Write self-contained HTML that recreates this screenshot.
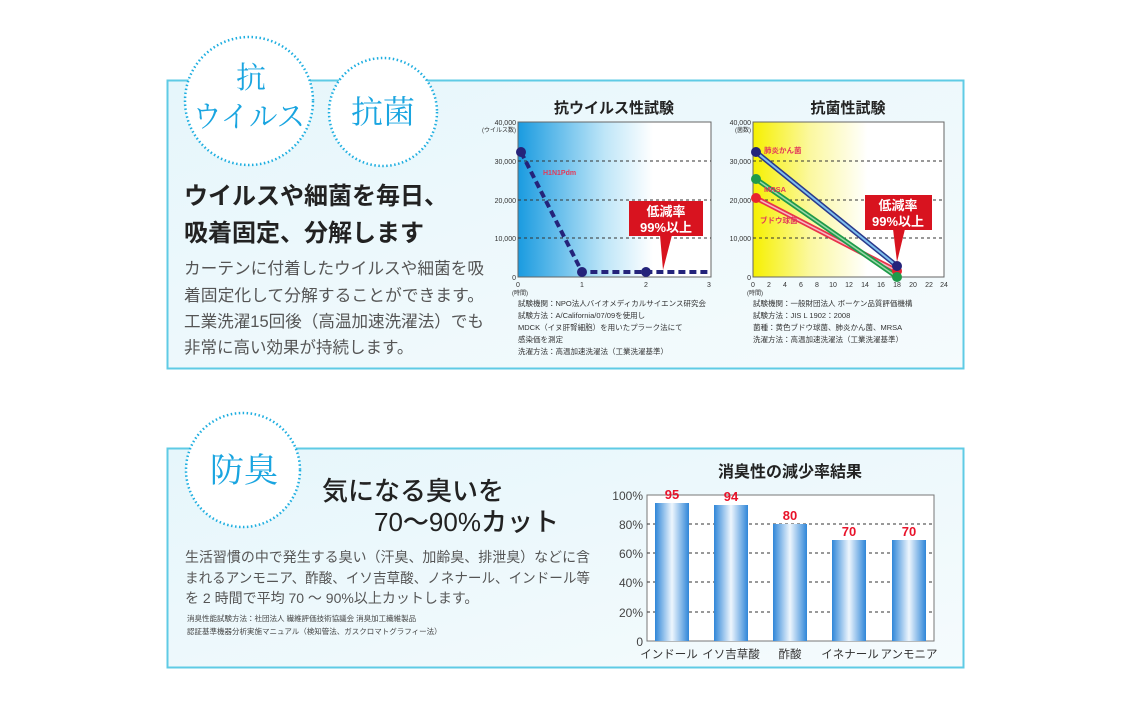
<!DOCTYPE html>
<html><head><meta charset="utf-8"><style>
html,body{margin:0;padding:0;background:#fff;}
svg{display:block;font-family:"Liberation Sans","Noto Sans CJK JP",sans-serif;}
</style></head><body>
<svg width="1131" height="707" viewBox="0 0 1131 707" xmlns="http://www.w3.org/2000/svg">
<defs>
<linearGradient id="bg1" x1="0" y1="0" x2="1" y2="0">
<stop offset="0" stop-color="#1a9be0"/><stop offset="0.45" stop-color="#bfe6f8"/><stop offset="0.7" stop-color="#ffffff"/></linearGradient>
<linearGradient id="bg2" x1="0" y1="0" x2="1" y2="0">
<stop offset="0" stop-color="#f6f000"/><stop offset="0.3" stop-color="#fbf8a0"/><stop offset="0.6" stop-color="#ffffff"/></linearGradient>
<linearGradient id="bar" x1="0" y1="0" x2="1" y2="0">
<stop offset="0" stop-color="#2f86d8"/><stop offset="0.5" stop-color="#eef6fd"/><stop offset="1" stop-color="#2f86d8"/></linearGradient>
<linearGradient id="boxbg" x1="0" y1="0" x2="1" y2="1">
<stop offset="0" stop-color="#e6f6fb"/><stop offset="1" stop-color="#f5fbfd"/></linearGradient>
</defs>
<rect width="1131" height="707" fill="#fff"/>

<!-- Box 1 -->
<rect x="167.5" y="80.5" width="796" height="288" fill="url(#boxbg)" stroke="#5fcbe5" stroke-width="2"/>
<!-- Box 2 -->
<rect x="167.5" y="448.5" width="796" height="219" fill="url(#boxbg)" stroke="#5fcbe5" stroke-width="2"/>

<!-- circles -->
<circle cx="249" cy="101" r="64" fill="#fff" stroke="#1eaee0" stroke-width="2.5" stroke-dasharray="1.5 2.5"/>
<circle cx="383" cy="112" r="54" fill="#fff" stroke="#1eaee0" stroke-width="2.5" stroke-dasharray="1.5 2.5"/>
<circle cx="243" cy="470" r="57" fill="#fff" stroke="#1eaee0" stroke-width="2.5" stroke-dasharray="1.5 2.5"/>
<g fill="#1aa5e0" font-family="'Noto Serif CJK SC','Noto Sans CJK JP',serif" text-anchor="middle">
<text x="251" y="88" font-size="30">抗</text>
<text x="249" y="127" font-size="30" textLength="112" lengthAdjust="spacingAndGlyphs">ウイルス</text>
<text x="383" y="123" font-size="32">抗菌</text>
<text x="244" y="482" font-size="34">防臭</text>
</g>

<!-- box1 text -->
<g fill="#222" font-weight="bold" font-size="24">
<text x="184" y="204">ウイルスや細菌を毎日、</text>
<text x="184" y="241">吸着固定、分解します</text>
</g>
<g fill="#555" font-size="16.5">
<text x="184" y="274" textLength="300" lengthAdjust="spacingAndGlyphs">カーテンに付着したウイルスや細菌を吸</text>
<text x="184" y="301" textLength="300" lengthAdjust="spacingAndGlyphs">着固定化して分解することができます。</text>
<text x="184" y="327" textLength="300" lengthAdjust="spacingAndGlyphs">工業洗濯15回後（高温加速洗濯法）でも</text>
<text x="184" y="353">非常に高い効果が持続します。</text>
</g>

<!-- Chart 1 -->
<text x="614" y="113" font-size="15" font-weight="bold" text-anchor="middle" fill="#222">抗ウイルス性試験</text>
<rect x="518" y="122" width="193" height="155" fill="url(#bg1)" stroke="#666" stroke-width="1"/>
<g stroke="#333" stroke-dasharray="3 3" stroke-width="1">
<line x1="518" y1="161" x2="711" y2="161"/><line x1="518" y1="200" x2="711" y2="200"/><line x1="518" y1="238" x2="711" y2="238"/></g>
<g font-size="7" fill="#333" text-anchor="end">
<text x="516" y="125">40,000</text><text x="516" y="132" font-size="6">(ウイルス数)</text>
<text x="516" y="164">30,000</text><text x="516" y="203">20,000</text><text x="516" y="241">10,000</text><text x="516" y="280">0</text></g>
<g font-size="7" fill="#333" text-anchor="middle">
<text x="518" y="287">0</text><text x="582" y="287">1</text><text x="646" y="287">2</text><text x="709" y="287">3</text>
<text x="520" y="295" font-size="6">(時間)</text></g>
<polyline points="521,152 582,272 646,272 711,272" fill="none" stroke="#24237a" stroke-width="4" stroke-dasharray="7 4"/>
<circle cx="521" cy="152" r="5" fill="#24237a"/><circle cx="582" cy="272" r="5" fill="#24237a"/><circle cx="646" cy="272" r="5" fill="#24237a"/>
<text x="543" y="175" font-size="7" font-weight="bold" fill="#e23a5a">H1N1Pdm</text>
<rect x="629" y="201" width="74" height="35" fill="#d8131f"/>
<polygon points="660,235 672,235 663,270" fill="#d8131f"/>
<g fill="#fff" font-size="13" font-weight="bold" text-anchor="middle">
<text x="666" y="216">低減率</text><text x="666" y="232">99%以上</text></g>
<g font-size="7.5" fill="#333">
<text x="518" y="306">試験機関：NPO法人バイオメディカルサイエンス研究会</text>
<text x="518" y="318">試験方法：A/California/07/09を使用し</text>
<text x="518" y="330">MDCK（イヌ肝腎細胞）を用いたプラーク法にて</text>
<text x="518" y="342">感染価を測定</text>
<text x="518" y="354">洗濯方法：高温加速洗濯法（工業洗濯基準）</text></g>

<!-- Chart 2 -->
<text x="848" y="113" font-size="15" font-weight="bold" text-anchor="middle" fill="#222">抗菌性試験</text>
<rect x="753" y="122" width="191" height="155" fill="url(#bg2)" stroke="#666" stroke-width="1"/>
<g stroke="#333" stroke-dasharray="3 3" stroke-width="1">
<line x1="753" y1="161" x2="944" y2="161"/><line x1="753" y1="200" x2="944" y2="200"/><line x1="753" y1="238" x2="944" y2="238"/></g>
<g font-size="7" fill="#333" text-anchor="end">
<text x="751" y="125">40,000</text><text x="751" y="132" font-size="6">(菌数)</text>
<text x="751" y="164">30,000</text><text x="751" y="203">20,000</text><text x="751" y="241">10,000</text><text x="751" y="280">0</text></g>
<g font-size="7" fill="#333" text-anchor="middle">
<text x="753" y="287">0</text><text x="769" y="287">2</text><text x="785" y="287">4</text><text x="801" y="287">6</text><text x="817" y="287">8</text><text x="833" y="287">10</text><text x="849" y="287">12</text><text x="865" y="287">14</text><text x="881" y="287">16</text><text x="897" y="287">18</text><text x="913" y="287">20</text><text x="929" y="287">22</text><text x="944" y="287">24</text>
<text x="755" y="295" font-size="6">(時間)</text></g>
<line x1="756" y1="198" x2="897" y2="271" stroke="#e8334a" stroke-width="5"/>
<line x1="756" y1="198" x2="897" y2="271" stroke="#f7b7c3" stroke-width="1.5"/>
<line x1="756" y1="179" x2="897" y2="277" stroke="#1f9a4a" stroke-width="5"/>
<line x1="756" y1="179" x2="897" y2="277" stroke="#9bd8a8" stroke-width="1.5"/>
<line x1="756" y1="152" x2="897" y2="266" stroke="#2a3a8c" stroke-width="5"/>
<line x1="756" y1="152" x2="897" y2="266" stroke="#7fc0ef" stroke-width="2"/>
<circle cx="756" cy="198" r="5" fill="#e8232f"/><circle cx="756" cy="179" r="5" fill="#1f9a4a"/><circle cx="756" cy="152" r="5" fill="#24237a"/>
<circle cx="897" cy="271" r="5" fill="#e8232f"/><circle cx="897" cy="277" r="5" fill="#1f9a4a"/><circle cx="897" cy="266" r="5" fill="#24237a"/>
<g font-size="7.5" font-weight="bold" fill="#e23a5a">
<text x="764" y="153">肺炎かん菌</text><text x="764" y="192">MRSA</text><text x="760" y="223">ブドウ球菌</text></g>
<rect x="865" y="195" width="67" height="35" fill="#d8131f"/>
<polygon points="893,229 905,229 897,262" fill="#d8131f"/>
<g fill="#fff" font-size="13" font-weight="bold" text-anchor="middle">
<text x="898" y="210">低減率</text><text x="898" y="226">99%以上</text></g>
<g font-size="7.5" fill="#333">
<text x="753" y="306">試験機関：一般財団法人 ボーケン品質評価機構</text>
<text x="753" y="318">試験方法：JIS L 1902：2008</text>
<text x="753" y="330">菌種：黄色ブドウ球菌、肺炎かん菌、MRSA</text>
<text x="753" y="342">洗濯方法：高温加速洗濯法（工業洗濯基準）</text></g>

<!-- box2 text -->
<g fill="#222" font-size="26" font-weight="500">
<text x="322" y="500">気になる臭いを</text>
<text x="374" y="531">70〜90%カット</text></g>
<g fill="#555" font-size="14">
<text x="185" y="562" textLength="405" lengthAdjust="spacingAndGlyphs">生活習慣の中で発生する臭い（汗臭、加齢臭、排泄臭）などに含</text>
<text x="185" y="583" textLength="405" lengthAdjust="spacingAndGlyphs">まれるアンモニア、酢酸、イソ吉草酸、ノネナール、インドール等</text>
<text x="185" y="603">を 2 時間で平均 70 〜 90%以上カットします。</text></g>
<g fill="#444" font-size="7.5">
<text x="187" y="621">消臭性能試験方法：社団法人 繊維評価技術協議会 消臭加工繊維製品</text>
<text x="187" y="634">認証基準機器分析実施マニュアル（検知管法、ガスクロマトグラフィー法）</text></g>

<!-- Chart 3 -->
<text x="790" y="477" font-size="16" font-weight="bold" text-anchor="middle" fill="#222">消臭性の減少率結果</text>
<rect x="647" y="495" width="287" height="146" fill="#fff" stroke="#777" stroke-width="1"/>
<g stroke="#333" stroke-dasharray="3 3" stroke-width="1">
<line x1="647" y1="524" x2="934" y2="524"/><line x1="647" y1="553" x2="934" y2="553"/><line x1="647" y1="582" x2="934" y2="582"/><line x1="647" y1="612" x2="934" y2="612"/></g>
<g font-size="12" fill="#444" text-anchor="end">
<text x="643" y="500">100%</text><text x="643" y="529">80%</text><text x="643" y="558">60%</text><text x="643" y="587">40%</text><text x="643" y="617">20%</text><text x="643" y="646">0</text></g>
<g fill="url(#bar)">
<rect x="655" y="503" width="34" height="138"/>
<rect x="714" y="505" width="34" height="136"/>
<rect x="773" y="524" width="34" height="117"/>
<rect x="832" y="540" width="34" height="101"/>
<rect x="892" y="540" width="34" height="101"/></g>
<g fill="#e8132a" font-size="13" font-weight="bold" text-anchor="middle">
<text x="672" y="499">95</text><text x="731" y="501">94</text><text x="790" y="520">80</text><text x="849" y="536">70</text><text x="909" y="536">70</text></g>
<g font-size="11.5" fill="#333" text-anchor="middle">
<text x="669" y="658">インドール</text><text x="731" y="658">イソ吉草酸</text><text x="790" y="658">酢酸</text><text x="850" y="658">イネナール</text><text x="909" y="658">アンモニア</text></g>
</svg>
</body></html>
